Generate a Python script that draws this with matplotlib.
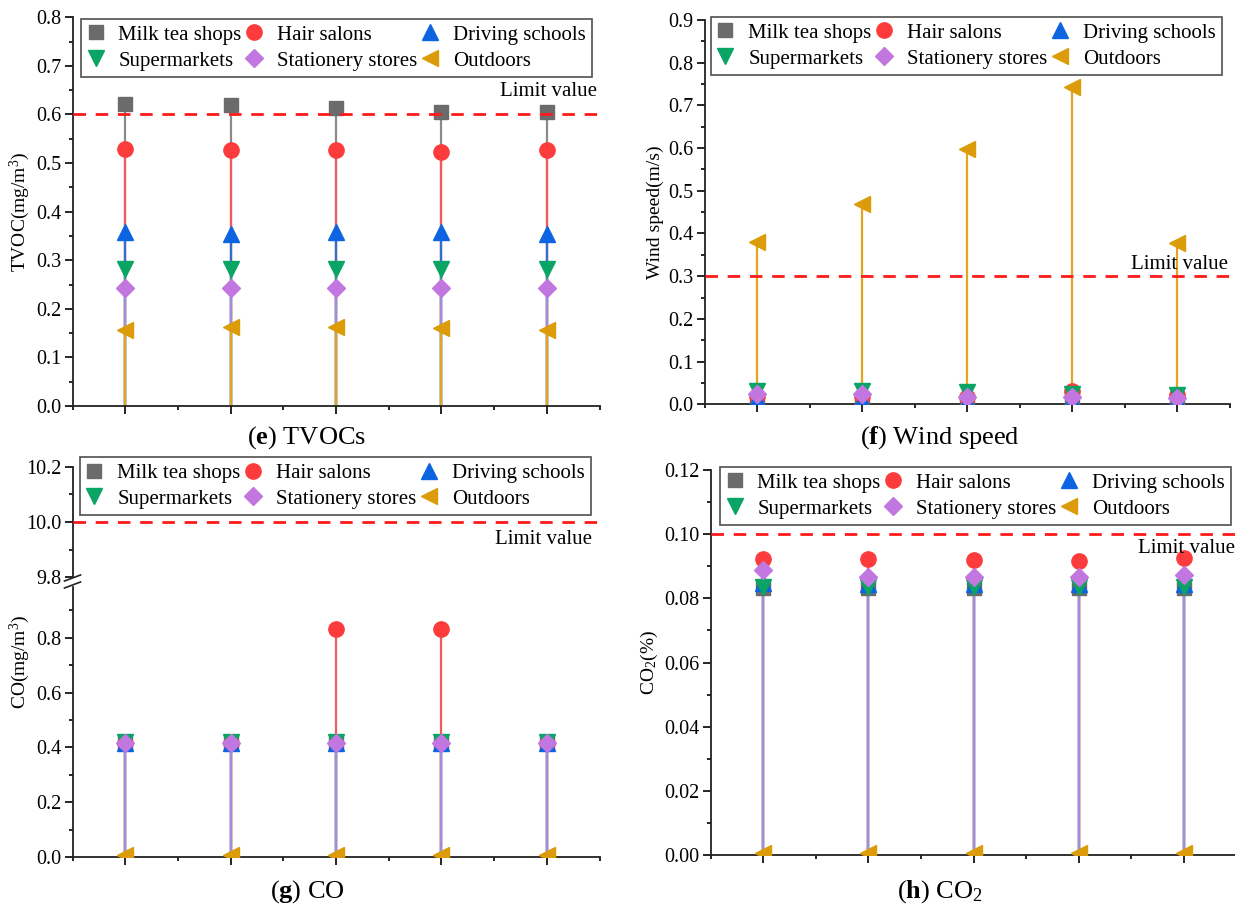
import matplotlib
matplotlib.use("Agg")
import matplotlib.pyplot as plt
from matplotlib.ticker import MultipleLocator, FormatStrFormatter
from matplotlib.lines import Line2D

plt.rcParams["font.family"] = ["Liberation Serif", "DejaVu Serif"]
plt.rcParams["mathtext.fontset"] = "custom"
plt.rcParams["mathtext.rm"] = "Liberation Serif"
plt.rcParams["mathtext.it"] = "Liberation Serif:italic"
plt.rcParams["mathtext.bf"] = "Liberation Serif:bold"

W, H = 1235, 909

x = [1, 2, 3, 4, 5]
names = ["Milk tea shops", "Hair salons", "Driving schools",
         "Supermarkets", "Stationery stores", "Outdoors"]
colors = ["#6b6b6b", "#fc3c3c", "#0c64e0", "#0aa564", "#c277e0", "#dc9b08"]
stem_colors = ["#8a8a8a", "#f55a5a", "#2f6fd0", "#2aa870", "#a98ad8", "#e3a520"]
markers = ["s", "o", "^", "v", "D", "<"]
msizes = [9.5, 11, 12, 12, 9.5, 12]

# (e) TVOCs, mg/m3
tvoc = {
    "Milk tea shops": [0.622, 0.619, 0.613, 0.606, 0.606],
    "Hair salons": [0.529, 0.526, 0.526, 0.522, 0.526],
    "Driving schools": [0.358, 0.355, 0.358, 0.358, 0.355],
    "Supermarkets": [0.281, 0.281, 0.281, 0.281, 0.281],
    "Stationery stores": [0.243, 0.243, 0.243, 0.243, 0.243],
    "Outdoors": [0.156, 0.163, 0.163, 0.160, 0.156],
}
# (f) wind speed, m/s
wind = {
    "Milk tea shops": [0.008, 0.010, 0.008, 0.010, 0.010],
    "Hair salons": [0.020, 0.020, 0.018, 0.030, 0.022],
    "Driving schools": [0.012, 0.010, 0.008, 0.010, 0.010],
    "Supermarkets": [0.030, 0.030, 0.028, 0.025, 0.022],
    "Stationery stores": [0.023, 0.023, 0.018, 0.017, 0.015],
    "Outdoors": [0.381, 0.468, 0.598, 0.744, 0.377],
}
# (g) CO, mg/m3
co = {
    "Milk tea shops": [0.415, 0.415, 0.415, 0.415, 0.415],
    "Hair salons": [0.415, 0.415, 0.832, 0.832, 0.415],
    "Driving schools": [0.415, 0.415, 0.415, 0.415, 0.415],
    "Supermarkets": [0.418, 0.418, 0.418, 0.418, 0.418],
    "Stationery stores": [0.415, 0.415, 0.415, 0.415, 0.415],
    "Outdoors": [0.008, 0.008, 0.008, 0.008, 0.008],
}
# (h) CO2, %
co2 = {
    "Milk tea shops": [0.0832, 0.0832, 0.0832, 0.0832, 0.0832],
    "Hair salons": [0.0923, 0.0923, 0.0920, 0.0917, 0.0925],
    "Driving schools": [0.0848, 0.0845, 0.0845, 0.0845, 0.0845],
    "Supermarkets": [0.0836, 0.0836, 0.0836, 0.0836, 0.0836],
    "Stationery stores": [0.0888, 0.0868, 0.0868, 0.0868, 0.0873],
    "Outdoors": [0.0006, 0.0006, 0.0006, 0.0006, 0.0006],
}
limits = {"e": 0.6, "f": 0.3, "g": 10.0, "h": 0.10}


def px_axes(fig, left, right, top, bottom):
    return fig.add_axes([left / W, 1 - bottom / H, (right - left) / W, (bottom - top) / H])


def style_axes(ax, major, minor, fmt):
    for s in ["top", "right"]:
        ax.spines[s].set_visible(False)
    for s in ["left", "bottom"]:
        ax.spines[s].set_linewidth(1.3)
        ax.spines[s].set_color("#222222")
    ax.set_xlim(0.5, 5.5)
    ax.set_xticks(x)
    ax.set_xticklabels([])
    ax.xaxis.set_minor_locator(MultipleLocator(1, offset=0.5))
    ax.yaxis.set_major_locator(MultipleLocator(major))
    ax.yaxis.set_minor_locator(MultipleLocator(minor))
    ax.yaxis.set_major_formatter(FormatStrFormatter(fmt))
    ax.tick_params(which="major", direction="out", length=6, width=1.2, labelsize=14.5, pad=2)
    ax.tick_params(which="minor", direction="out", length=3.2, width=1.2)


def draw_stems(ax, data):
    for i, n in enumerate(names):
        ax.vlines(x, 0, data[n], color=stem_colors[i], lw=1.6, zorder=2 + i * 0.01)
    for i, n in enumerate(names):
        ax.plot(x, data[n], ls="none", marker=markers[i], ms=msizes[i],
                color=colors[i], mec=colors[i], zorder=3 + i * 0.01)


def add_legend(ax, anchor):
    hs = [Line2D([], [], ls="none", marker=markers[i], ms=msizes[i],
                 color=colors[i], mec=colors[i]) for i in range(6)]
    order = [0, 3, 1, 4, 2, 5]
    leg = ax.legend([hs[k] for k in order], [names[k] for k in order], ncol=3,
                    loc="upper left", bbox_to_anchor=anchor, borderaxespad=0,
                    fontsize=15, frameon=True, fancybox=False, edgecolor="#222222",
                    handlelength=0.8, handletextpad=0.7, columnspacing=0.2,
                    labelspacing=0.3, borderpad=0.3)
    leg.get_frame().set_linewidth(1.2)
    leg.set_zorder(10)


def limit_line(ax, y):
    ax.axhline(y, color="#ff1a1a", lw=2, ls=(0, (4.5, 3.5)), zorder=5)


def limit_text(ax, xr, yc):
    ax.text(xr, yc, "Limit value", transform=ax.transAxes, ha="right",
            va="center", fontsize=15, zorder=6)


fig = plt.figure(figsize=(W / 100, H / 100), dpi=100)

# (e) TVOCs
ax_e = px_axes(fig, 72.5, 599.5, 17.3, 406)
style_axes(ax_e, 0.1, 0.05, "%.1f")
ax_e.set_ylim(0, 0.8)
draw_stems(ax_e, tvoc)
limit_line(ax_e, limits["e"])
limit_text(ax_e, 0.995, 0.81)
add_legend(ax_e, (0.016, 0.996))
ax_e.set_ylabel("TVOC(mg/m$^3$)", fontsize=14, labelpad=3)

# (f) wind speed
ax_f = px_axes(fig, 704.5, 1229.5, 20, 404.3)
style_axes(ax_f, 0.1, 0.05, "%.1f")
ax_f.set_ylim(0, 0.9)
draw_stems(ax_f, wind)
limit_line(ax_f, limits["f"])
limit_text(ax_f, 0.998, 0.365)
add_legend(ax_f, (0.012, 1.008))
ax_f.set_ylabel("Wind speed(m/s)", fontsize=14, labelpad=3)

# (g) CO with broken axis
ax_g = px_axes(fig, 72.5, 599.5, 587, 857)
style_axes(ax_g, 0.2, 0.1, "%.1f")
ax_g.set_ylim(0, 0.985)
draw_stems(ax_g, co)
ax_g2 = px_axes(fig, 72.5, 599.5, 467, 577)
style_axes(ax_g2, 0.2, 0.1, "%.1f")
ax_g2.set_ylim(9.8, 10.2)
ax_g2.spines["bottom"].set_visible(False)
ax_g2.tick_params(axis="x", which="both", bottom=False)
ax_g2.patch.set_alpha(0)
limit_line(ax_g2, limits["g"])
limit_text(ax_g2, 0.985, 0.345)
add_legend(ax_g2, (0.014, 1.09))
for yy in (578, 585):
    fig.add_artist(Line2D([(72.5 - 8) / W, (72.5 + 8) / W],
                          [1 - (yy + 3) / H, 1 - (yy - 3) / H],
                          color="#222222", lw=1.2))
fig.text(20 / W, 1 - 662 / H, "CO(mg/m$^3$)", rotation=90, ha="center",
         va="center", fontsize=14)

# (h) CO2
ax_h = px_axes(fig, 710.5, 1236.5, 470, 855)
style_axes(ax_h, 0.02, 0.01, "%.2f")
ax_h.set_ylim(0, 0.12)
draw_stems(ax_h, co2)
limit_line(ax_h, limits["h"])
limit_text(ax_h, 0.998, 0.797)
add_legend(ax_h, (0.018, 1.008))
ax_h.set_ylabel("CO$_2$(%)", fontsize=14, labelpad=3)

# panel captions
fig.text(307 / W, 1 - 438 / H, r"($\mathbf{e}$) TVOCs", ha="center", va="center", fontsize=19)
fig.text(940 / W, 1 - 438 / H, r"($\mathbf{f}$) Wind speed", ha="center", va="center", fontsize=19)
fig.text(307 / W, 1 - 892 / H, r"($\mathbf{g}$) CO", ha="center", va="center", fontsize=19)
fig.text(940 / W, 1 - 892 / H, r"($\mathbf{h}$) CO$_2$", ha="center", va="center", fontsize=19)

fig.savefig("out.png", dpi=100)
